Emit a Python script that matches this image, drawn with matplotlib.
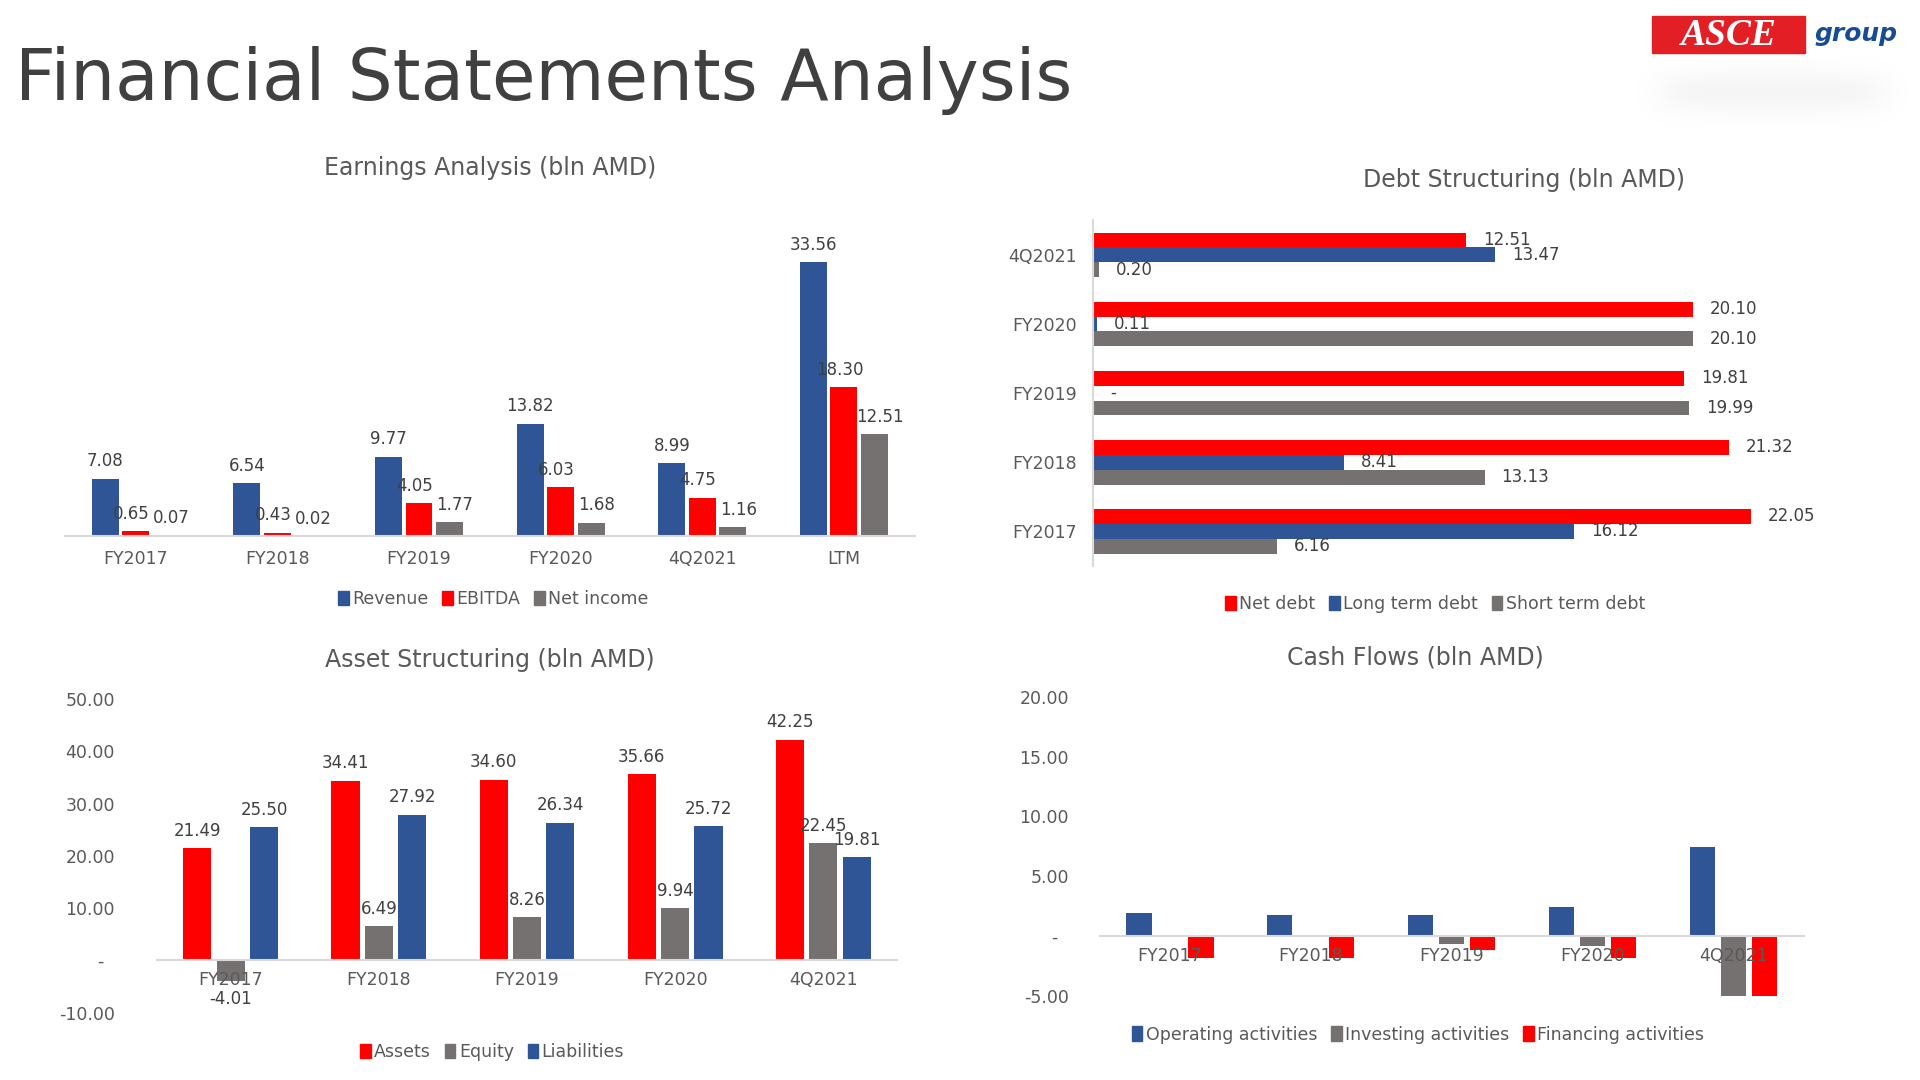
import numpy as np
import matplotlib
matplotlib.use("Agg")
import matplotlib.pyplot as plt
from matplotlib.patches import Rectangle, Patch

plt.rcParams['font.family'] = ['DejaVu Sans Condensed', 'Liberation Sans Narrow', 'DejaVu Sans']

# colours
BLUE = '#2F5597'
RED = '#FF0000'
GRAY = '#767171'
TXT = '#595959'
AXL = '#D9D9D9'

# Earnings Analysis
earn_cats = ['FY2017', 'FY2018', 'FY2019', 'FY2020', '4Q2021', 'LTM']
revenue = [7.08, 6.54, 9.77, 13.82, 8.99, 33.56]
ebitda = [0.65, 0.43, 4.05, 6.03, 4.75, 18.30]
net_income = [0.07, 0.02, 1.77, 1.68, 1.16, 12.51]

# Debt Structuring
debt_cats = ['FY2017', 'FY2018', 'FY2019', 'FY2020', '4Q2021']
net_debt = [22.05, 21.32, 19.81, 20.10, 12.51]
long_debt = [16.12, 8.41, 0.0, 0.11, 13.47]
short_debt = [6.16, 13.13, 19.99, 20.10, 0.20]

# Asset Structuring
asset_cats = ['FY2017', 'FY2018', 'FY2019', 'FY2020', '4Q2021']
assets = [21.49, 34.41, 34.60, 35.66, 42.25]
equity = [-4.01, 6.49, 8.26, 9.94, 22.45]
liabilities = [25.50, 27.92, 26.34, 25.72, 19.81]

# Cash Flows
cash_cats = ['FY2017', 'FY2018', 'FY2019', 'FY2020', '4Q2021']
operating = [1.87, 1.78, 1.70, 2.45, 7.47]
investing = [-0.13, -0.12, -0.67, -0.83, -5.08]
financing = [-1.83, -1.83, -1.17, -1.83, -5.08]


def fmt(v):
    return '-' if v == 0 else f'{v:.2f}'


def acc(v):
    return '-  ' if v == 0 else f'{v:.2f}'


def style_cols(ax):
    for s in ['top', 'right', 'left']:
        ax.spines[s].set_visible(False)
    ax.spines['bottom'].set_color(AXL)
    ax.spines['bottom'].set_linewidth(1.5)
    ax.spines['bottom'].set_position(('data', 0))
    ax.tick_params(axis='both', length=0, labelsize=12.5, colors=TXT)


def col_labels(ax, x, vals, dx=0):
    for xi, v in zip(x, vals):
        ax.annotate(fmt(v), (xi, v), xytext=(dx, 6 if v >= 0 else -6),
                    textcoords='offset points', ha='center',
                    va='bottom' if v >= 0 else 'top', fontsize=12, color='#404040')


fig = plt.figure(figsize=(19.2, 10.8), dpi=100)

# main title
fig.text(0.0077, 0.907, 'Financial Statements Analysis', fontsize=51,
         color='#404040', ha='left', va='baseline')

# logo
fig.patches.append(Rectangle((0.8604, 0.9509), 0.0797, 0.0343,
                             transform=fig.transFigure, color='#E31E24', zorder=3))
fig.text(0.9003, 0.9675, 'ASCE', color='white', fontsize=27, fontweight='bold',
         fontstyle='italic', family=['Liberation Serif', 'DejaVu Serif'],
         ha='center', va='center', zorder=4)
fig.text(0.9665, 0.9685, 'group', color='#164C96', fontsize=18, fontweight='bold',
         fontstyle='italic', ha='center', va='center', zorder=4)
# soft shadow under the logo
sh = fig.add_axes([0.852, 0.88, 0.142, 0.07], zorder=0)
gx = np.linspace(-1, 1, 200)
gy = np.linspace(-1, 1, 60)
GX, GY = np.meshgrid(gx, gy)
shade = np.exp(-(GX ** 6) * 3 - (GY ** 2) * 3)
sh.imshow(shade, cmap='Greys', vmin=0, vmax=12, aspect='auto')
sh.axis('off')

# ---- Earnings Analysis
ax1 = fig.add_axes([0.0338, 0.5034, 0.4426, 0.2812])
x = np.arange(len(earn_cats))
w, off = 0.19, 0.215
ax1.bar(x - off, revenue, w, color=BLUE)
ax1.bar(x, ebitda, w, color=RED)
ax1.bar(x + off, net_income, w, color=GRAY)
col_labels(ax1, x - off, revenue)
col_labels(ax1, x, ebitda, dx=-3)
col_labels(ax1, x + off, net_income, dx=4)
ax1.set_xlim(-0.5, len(earn_cats) - 0.5)
ax1.set_ylim(0, 37.2)
ax1.set_xticks(x)
ax1.set_xticklabels(earn_cats)
ax1.set_yticks([])
style_cols(ax1)
ax1.tick_params(axis='x', pad=10)
fig.text(0.2551, 0.8447, 'Earnings Analysis (bln AMD)', fontsize=17, color=TXT,
         ha='center', va='center')
fig.legend([Patch(color=BLUE), Patch(color=RED), Patch(color=GRAY)],
           ['Revenue', 'EBITDA', 'Net income'], loc='center',
           bbox_to_anchor=(0.257, 0.4456), ncol=3, frameon=False, fontsize=12.5,
           handlelength=0.6, handleheight=0.9, handletextpad=0.2, columnspacing=0.8,
           labelcolor=TXT)

# ---- Debt Structuring
ax2 = fig.add_axes([0.5695, 0.476, 0.368, 0.320])
y = np.arange(len(debt_cats))
h, hoff = 0.215, 0.215
ax2.barh(y + hoff, net_debt, h, color=RED)
ax2.barh(y, long_debt, h, color=BLUE)
ax2.barh(y - hoff, short_debt, h, color=GRAY)
for series, dy in [(net_debt, hoff), (long_debt, 0), (short_debt, -hoff)]:
    for yi, v in zip(y, series):
        ax2.annotate(fmt(v), (v, yi + dy), xytext=(12, 0), textcoords='offset points',
                     ha='left', va='center', fontsize=12, color='#404040')
ax2.set_ylim(-0.5, len(debt_cats) - 0.5)
ax2.set_xlim(0, 23.7)
ax2.set_yticks(y)
ax2.set_yticklabels(debt_cats)
ax2.set_xticks([])
for s in ['top', 'right', 'bottom']:
    ax2.spines[s].set_visible(False)
ax2.spines['left'].set_color(AXL)
ax2.spines['left'].set_linewidth(1.5)
ax2.tick_params(axis='both', length=0, labelsize=12.5, colors=TXT, pad=12)
fig.text(0.794, 0.8333, 'Debt Structuring (bln AMD)', fontsize=17, color=TXT,
         ha='center', va='center')
fig.legend([Patch(color=RED), Patch(color=BLUE), Patch(color=GRAY)],
           ['Net debt', 'Long term debt', 'Short term debt'], loc='center',
           bbox_to_anchor=(0.7474, 0.441), ncol=3, frameon=False, fontsize=12.5,
           handlelength=0.6, handleheight=0.9, handletextpad=0.2, columnspacing=0.8,
           labelcolor=TXT)

# ---- Asset Structuring
ax3 = fig.add_axes([0.0816, 0.0624, 0.3858, 0.2902])
x = np.arange(len(asset_cats))
w, off = 0.19, 0.225
ax3.bar(x - off, assets, w, color=RED)
ax3.bar(x, equity, w, color=GRAY)
ax3.bar(x + off, liabilities, w, color=BLUE)
col_labels(ax3, x - off, assets)
col_labels(ax3, x, equity)
col_labels(ax3, x + off, liabilities)
ax3.set_xlim(-0.5, len(asset_cats) - 0.5)
ax3.set_ylim(-10, 50)
ax3.set_xticks(x)
ax3.set_xticklabels(asset_cats)
yt = [-10, 0, 10, 20, 30, 40, 50]
ax3.set_yticks(yt)
ax3.set_yticklabels([acc(v) for v in yt])
style_cols(ax3)
ax3.tick_params(axis='y', pad=30)
ax3.tick_params(axis='x', pad=8)
fig.text(0.2551, 0.3889, 'Asset Structuring (bln AMD)', fontsize=17, color=TXT,
         ha='center', va='center')
fig.legend([Patch(color=RED), Patch(color=GRAY), Patch(color=BLUE)],
           ['Assets', 'Equity', 'Liabilities'], loc='center',
           bbox_to_anchor=(0.2564, 0.0261), ncol=3, frameon=False, fontsize=12.5,
           handlelength=0.6, handleheight=0.9, handletextpad=0.2, columnspacing=0.8,
           labelcolor=TXT)

# ---- Cash Flows
ax4 = fig.add_axes([0.5727, 0.0782, 0.3667, 0.2766])
x = np.arange(len(cash_cats))
w, off = 0.18, 0.22
ax4.bar(x - off, operating, w, color=BLUE)
ax4.bar(x, investing, w, color=GRAY)
ax4.bar(x + off, financing, w, color=RED)
ax4.set_xlim(-0.5, len(cash_cats) - 0.5)
ax4.set_ylim(-5, 20)
ax4.set_xticks(x)
ax4.set_xticklabels(cash_cats)
yt = [-5, 0, 5, 10, 15, 20]
ax4.set_yticks(yt)
ax4.set_yticklabels([acc(v) for v in yt])
style_cols(ax4)
ax4.tick_params(axis='y', pad=22)
ax4.tick_params(axis='x', pad=8)
fig.text(0.737, 0.3912, 'Cash Flows (bln AMD)', fontsize=17, color=TXT,
         ha='center', va='center')
fig.legend([Patch(color=BLUE), Patch(color=GRAY), Patch(color=RED)],
           ['Operating activities', 'Investing activities', 'Financing activities'],
           loc='center', bbox_to_anchor=(0.7385, 0.042), ncol=3, frameon=False,
           fontsize=12.5, handlelength=0.6, handleheight=0.9, handletextpad=0.2,
           columnspacing=0.8, labelcolor=TXT)

fig.savefig('out.png', dpi=100)
